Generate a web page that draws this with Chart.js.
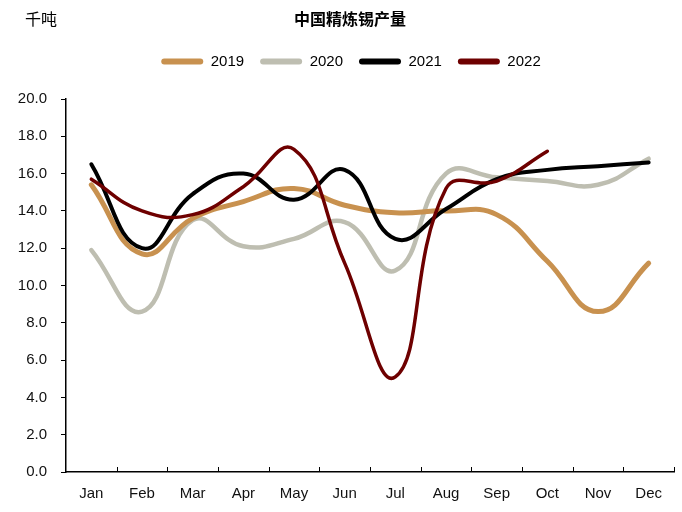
<!DOCTYPE html>
<html>
<head>
<meta charset="utf-8">
<script src="https://cdn.jsdelivr.net/npm/chart.js@4"></script>
<style>
  html, body { margin: 0; padding: 0; background: #fff; }
  #wrap { width: 682px; height: 512px; position: relative; }
</style>
</head>
<body>
<div id="wrap"><canvas id="c" width="682" height="512"></canvas></div>
<script>
// China refined tin output, thousand tonnes, by month

const MONTHS = ['Jan', 'Feb', 'Mar', 'Apr', 'May', 'Jun', 'Jul', 'Aug', 'Sep', 'Oct', 'Nov', 'Dec'];
const Y2019 = [15.4, 11.7, 13.6, 14.5, 15.2, 14.3, 13.9, 14.0, 13.8, 11.3, 8.6, 11.2];
const Y2020 = [11.9, 8.6, 13.5, 12.1, 12.5, 13.4, 10.8, 16.0, 15.8, 15.6, 15.4, 16.8];
const Y2021 = [16.5, 12.0, 14.9, 16.0, 14.6, 16.2, 12.5, 14.1, 15.7, 16.2, 16.4, 16.6];
const Y2022 = [15.7, 14.0, 13.8, 15.3, 17.3, 11.2, 5.1, 15.2, 15.6, 17.2];

const TITLE = '中国精炼锡产量';
const UNIT = '千吨';
const FONT = '"Liberation Sans", Arial, sans-serif';

// ── helpers ───────────────────────────────────────────────────────────────────
// extra room under the legend so the plot starts lower, legend nudged right
const legendGap = {
    id: 'legendGap',
    beforeInit(chart) {
        const fit = chart.legend.fit;
        chart.legend.fit = function () {
            fit.call(this);
            this.height += 20;
        };
    },
    afterLayout(chart) {
        chart.legend.left += 14;
        chart.legend.right += 14;
    }
};

// title + unit text, and the small upward ticks on the x axis
const decor = {
    id: 'decor',
    afterDraw(chart) {
        const ctx = chart.ctx;
        const x = chart.scales.x;
        ctx.save();
        ctx.fillStyle = '#000';
        ctx.textBaseline = 'middle';
        ctx.textAlign = 'center';
        ctx.font = 'bold 16px "Noto Sans CJK SC", sans-serif';
        ctx.fillText(TITLE, 350, 19);
        ctx.font = '16px "Noto Sans CJK SC", sans-serif';
        ctx.fillText(UNIT, 41, 19);

        ctx.strokeStyle = '#000';
        ctx.lineWidth = 1;
        const bottom = chart.chartArea.bottom;
        const half = (x.getPixelForValue(1) - x.getPixelForValue(0)) / 2;
        for (let i = 0; i < MONTHS.length; i++) {
            const px = Math.round(x.getPixelForValue(i) + half) + 0.5;
            ctx.beginPath();
            ctx.moveTo(px, bottom);
            ctx.lineTo(px, bottom - 5);
            ctx.stroke();
        }
        ctx.restore();
    }
};

function line(label, data, color, width, order) {
    return {
        label, data, order,
        borderColor: color,
        backgroundColor: color,
        borderWidth: width,
        pointRadius: 0,
        tension: 0.45,
        borderCapStyle: 'round',
        fill: false
    };
}

// ── chart ─────────────────────────────────────────────────────────────────────
new Chart(document.getElementById('c').getContext('2d'), {
    type: 'line',
    data: {
        labels: MONTHS,
        datasets: [
            line('2019', Y2019, '#C8914F', 5, 2),
            line('2020', Y2020, '#BEBEB1', 4.5, 3),
            line('2021', Y2021, '#000000', 4, 1),
            line('2022', Y2022, '#6E0000', 3.5, 0)
        ]
    },
    options: {
        responsive: false,
        animation: false,
        layout: { padding: { top: 38, left: 0, right: 8, bottom: 0 } },
        plugins: {
            title: { display: false },
            tooltip: { enabled: false },
            legend: {
                position: 'top',
                labels: {
                    boxWidth: 42,
                    boxHeight: 6,
                    padding: 16,
                    color: '#000',
                    font: { family: FONT, size: 15 },
                    sort: (a, b) => a.datasetIndex - b.datasetIndex,
                    generateLabels(chart) {
                        return Chart.defaults.plugins.legend.labels.generateLabels(chart)
                            .map(l => ({ ...l, fillStyle: l.strokeStyle, lineWidth: 0, borderRadius: 3 }));
                    }
                }
            }
        },
        scales: {
            x: {
                offset: true,
                grid: { display: true, drawOnChartArea: false, drawTicks: false, color: '#000' },
                border: { color: '#000', width: 1.5 },
                ticks: { color: '#111', padding: 13, font: { family: FONT, size: 15 } },
                afterFit(scale) { scale.height = 40; }
            },
            y: {
                min: 0,
                max: 20,
                grid: { drawOnChartArea: false, tickLength: 5, color: '#000' },
                border: { color: '#000', width: 1.5 },
                ticks: {
                    stepSize: 2,
                    color: '#111',
                    padding: 14,
                    font: { family: FONT, size: 15 },
                    callback: v => v.toFixed(1)
                },
                afterFit(scale) { scale.width = 66; }
            }
        }
    },
    plugins: [legendGap, decor]
});
</script>
</body>
</html>
